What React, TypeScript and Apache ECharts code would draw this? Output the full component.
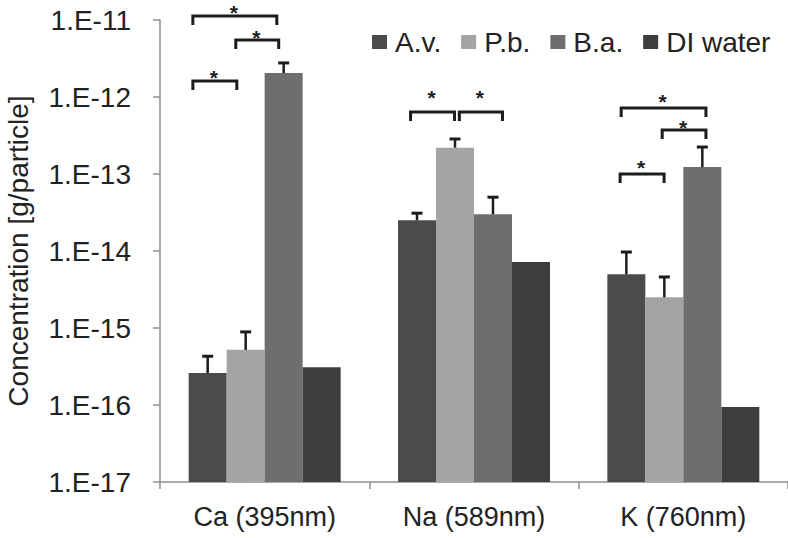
import React, { useEffect, useRef } from "react";
import * as echarts from "echarts";

const categories = ["Ca (395nm)", "Na (589nm)", "K (760nm)"];
const seriesNames = ["A.v.", "P.b.", "B.a.", "DI water"];

const avValues = [2.6e-16, 2.5e-14, 5.0e-15];
const avErrTop = [4.3e-16, 3.1e-14, 9.7e-15];
const pbValues = [5.2e-16, 2.2e-13, 2.5e-15];
const pbErrTop = [8.9e-16, 2.85e-13, 4.6e-15];
const baValues = [2.05e-12, 3.0e-14, 1.23e-13];
const baErrTop = [2.77e-12, 5.0e-14, 2.24e-13];
const diValues = [3.1e-16, 7.2e-15, 9.4e-17];
const diErrTop: (number | null)[] = [null, null, null];

const yTickLabels = ["1.E-17", "1.E-16", "1.E-15", "1.E-14", "1.E-13", "1.E-12", "1.E-11"];
const yMin = 1e-17;
const yMax = 1e-11;
const yExpMin = -17;

// significance brackets: [category, start (fraction of band), end (fraction of band), bracket level, asterisk level]
const brackets: number[][] = [
  [0, 0.157, 0.558, 1.13e-11, 1.47e-11],
  [0, 0.362, 0.567, 5.5e-12, 6.8e-12],
  [0, 0.157, 0.367, 1.61e-12, 2.11e-12],
  [1, 0.197, 0.407, 6.4e-13, 1.16e-12],
  [1, 0.43, 0.636, 6.4e-13, 1.16e-12],
  [2, 0.203, 0.608, 7.2e-13, 1.03e-12],
  [2, 0.399, 0.608, 3.73e-13, 4.6e-13],
  [2, 0.198, 0.408, 1.0e-13, 1.43e-13],
];

const allValues = [avValues, pbValues, baValues, diValues];
const allErrs = [avErrTop, pbErrTop, baErrTop, diErrTop];
const colors = ["#4b4b4b", "#a4a4a4", "#6e6e6e", "#3d3d3d"];
const CAT_GAP = 0.274;
const FONT = '"Liberation Sans", Arial, sans-serif';
const INK = "#1c1c1c";

function makeBarSeries(idx: number) {
  return {
    type: "custom",
    name: seriesNames[idx],
    coordinateSystem: "cartesian2d",
    itemStyle: { color: colors[idx] },
    encode: { x: 0, y: 1 },
    data: categories.map((_, i) => [i, allValues[idx][i], allErrs[idx][i] == null ? "-" : allErrs[idx][i]]),
    renderItem: (params: any, api: any) => {
      const cat = api.value(0);
      const v = api.value(1);
      const e = api.value(2);
      const top = api.coord([cat, v]);
      const base = api.coord([cat, yMin]);
      const band = api.size([1, 0])[0];
      const bw = (band * (1 - CAT_GAP)) / 4;
      const x0 = top[0] - 2 * bw + idx * bw;
      const children: any[] = [
        {
          type: "rect",
          shape: { x: x0, y: top[1], width: bw, height: base[1] - top[1] },
          style: { fill: colors[idx] },
        },
      ];
      if (isFinite(e) && e > 0) {
        const et = api.coord([cat, e]);
        const cx = x0 + bw / 2;
        children.push(
          {
            type: "line",
            shape: { x1: cx, y1: top[1], x2: cx, y2: et[1] },
            style: { stroke: INK, lineWidth: 2.5 },
          },
          {
            type: "line",
            shape: { x1: cx - 5.5, y1: et[1], x2: cx + 5.5, y2: et[1] },
            style: { stroke: INK, lineWidth: 3 },
          }
        );
      }
      return { type: "group", children };
    },
  };
}

const bracketSeries = {
  type: "custom",
  name: "brackets",
  coordinateSystem: "cartesian2d",
  clip: false,
  silent: true,
  encode: { x: 0, y: 3 },
  data: brackets,
  renderItem: (params: any, api: any) => {
    const cat = api.value(0);
    const f0 = api.value(1);
    const f1 = api.value(2);
    const c = api.coord([cat, api.value(3)]);
    const s = api.coord([cat, api.value(4)]);
    const band = api.size([1, 0])[0];
    const left = c[0] - band / 2;
    const x0 = left + f0 * band;
    const x1 = left + f1 * band;
    const y = c[1];
    return {
      type: "group",
      children: [
        {
          type: "polyline",
          shape: { points: [[x0, y + 9], [x0, y], [x1, y], [x1, y + 9]] },
          style: { stroke: INK, lineWidth: 3, fill: null },
        },
        {
          type: "text",
          x: (x0 + x1) / 2 - 1,
          y: s[1] + 5,
          style: {
            text: "*",
            textAlign: "center",
            textVerticalAlign: "middle",
            align: "center",
            verticalAlign: "middle",
            font: `bold 21px ${FONT}`,
            fill: INK,
          },
        },
      ],
    };
  },
};

export default function App() {
  const ref = useRef<HTMLDivElement>(null);
  useEffect(() => {
    if (!ref.current) return;
    const chart = echarts.init(ref.current, undefined, { renderer: "svg" });
    const axisColor = "#8f8f8f";
    chart.setOption({
      animation: false,
      backgroundColor: "#ffffff",
      textStyle: { fontFamily: FONT },
      grid: { left: 160, right: 0, top: 20, bottom: 56, containLabel: false, outerBoundsMode: "none" },
      legend: {
        data: seriesNames.map((n) => ({ name: n, icon: "rect" })),
        left: 367,
        top: 23,
        itemWidth: 15,
        itemHeight: 14,
        itemGap: 20,
        textStyle: { fontSize: 28, color: "#222", fontFamily: FONT, padding: [0, 0, 0, 3] },
        selectedMode: false,
      },
      xAxis: {
        type: "category",
        data: categories,
        axisLine: { lineStyle: { color: axisColor, width: 1.5 } },
        axisTick: { show: true, inside: false, length: 7, lineStyle: { color: axisColor, width: 1.5 } },
        axisLabel: { fontSize: 27, color: "#222", margin: 21, fontFamily: FONT },
        splitLine: { show: false },
      },
      yAxis: {
        type: "log",
        logBase: 10,
        min: yMin,
        max: yMax,
        name: "Concentration [g/particle]",
        nameLocation: "middle",
        nameRotate: 90,
        nameGap: 128,
        nameTextStyle: { fontSize: 28, color: "#222", fontFamily: FONT },
        axisLine: { show: true, lineStyle: { color: axisColor, width: 1.5 } },
        axisTick: { show: true, inside: false, length: 7, lineStyle: { color: axisColor, width: 1.5 } },
        axisLabel: {
          fontSize: 28,
          color: "#222",
          margin: 29,
          fontFamily: FONT,
          formatter: (v: number) => {
            const exp = Math.round(Math.log10(v));
            return yTickLabels[exp - yExpMin] ?? "";
          },
        },
        splitLine: { show: false },
        minorTick: { show: false },
      },
      series: [makeBarSeries(0), makeBarSeries(1), makeBarSeries(2), makeBarSeries(3), bracketSeries],
    });
    return () => chart.dispose();
  }, []);
  return (
    <div
      ref={ref}
      style={{ position: "fixed", left: 0, top: 0, width: 788, height: 538, background: "#fff" }}
    />
  );
}
